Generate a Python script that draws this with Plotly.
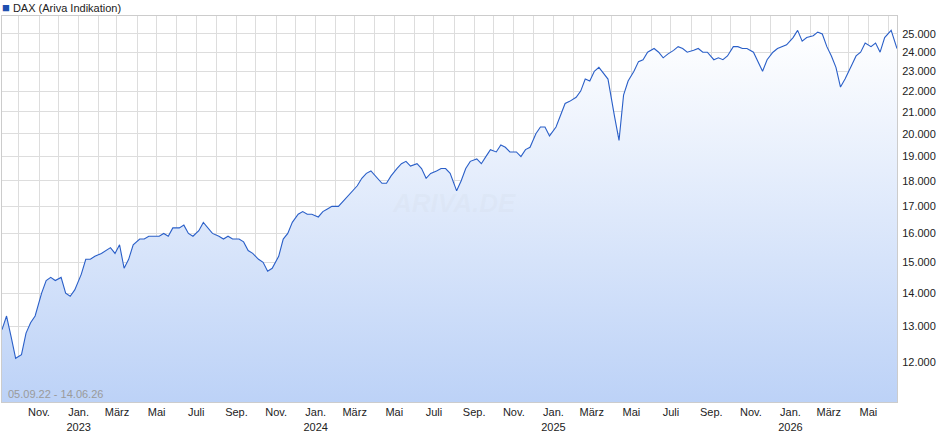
import pandas as pd
import plotly.graph_objects as go

# DAX values, 4 readings per month
months = pd.period_range("2022-09", "2026-06", freq="M")
monthly_values = [
    [12900, 13300, 12700, 12100],
    [12200, 12800, 13100, 13300],
    [14000, 14400, 14500, 14400],
    [14500, 14000, 13900, 14100],
    [14600, 15100, 15100, 15200],
    [15300, 15400, 15500, 15300],
    [15600, 14800, 15100, 15600],
    [15800, 15800, 15900, 15900],
    [15900, 16000, 15900, 16200],
    [16200, 16300, 16000, 15900],
    [16100, 16400, 16200, 16000],
    [15900, 15800, 15900, 15800],
    [15800, 15700, 15400, 15300],
    [15100, 15000, 14700, 14800],
    [15200, 15800, 16000, 16400],
    [16700, 16800, 16700, 16700],
    [16600, 16800, 16900, 17000],
    [17000, 17200, 17400, 17600],
    [17800, 18100, 18300, 18400],
    [18100, 17900, 17900, 18200],
    [18500, 18700, 18800, 18600],
    [18700, 18500, 18100, 18300],
    [18400, 18500, 18500, 18300],
    [17600, 18000, 18500, 18800],
    [18900, 18700, 19000, 19300],
    [19200, 19500, 19400, 19200],
    [19200, 19000, 19300, 19400],
    [20000, 20300, 20300, 19900],
    [20300, 20800, 21400, 21500],
    [21700, 22000, 22600, 22500],
    [23000, 23200, 22900, 22600],
    [20800, 19700, 21800, 22500],
    [23000, 23500, 23600, 24000],
    [24200, 24000, 23700, 23900],
    [24100, 24300, 24200, 24000],
    [24100, 24200, 24000, 24000],
    [23600, 23700, 23600, 23800],
    [24300, 24300, 24200, 24200],
    [24000, 23500, 23000, 23600],
    [24000, 24200, 24300, 24400],
    [24800, 25200, 24600, 24800],
    [24900, 25100, 25000, 24300],
    [23800, 23200, 22200, 22600],
    [23300, 23800, 24000, 24500],
    [24300, 24500, 24000, 24800],
    [25200, 24500, 24200, None],
]
day_offsets = [5, 12, 19, 26]

ytick_vals = [12000, 13000, 14000, 15000, 16000, 17000, 18000, 19000,
              20000, 21000, 22000, 23000, 24000, 25000]
month_names = {1: "Jan.", 3: "März", 5: "Mai", 7: "Juli", 9: "Sep.", 11: "Nov."}
baseline = 10000

dates, values = [], []
for m, vals in zip(months, monthly_values):
    for d, v in zip(day_offsets, vals):
        if v is None:
            continue
        dates.append(pd.Timestamp(m.year, m.month, d))
        values.append(v)
dates[-1] = pd.Timestamp("2026-06-14")

grid_dates = pd.date_range("2022-10-01", "2026-06-01", freq="MS")
label_dates = [g for g in grid_dates if g.month in month_names]
label_text = [month_names[g.month] + ("<br>%d" % g.year if g.month == 1 else "")
              for g in label_dates]

fig = go.Figure()
# invisible baseline so the area fill stays on the log axis
fig.add_trace(go.Scatter(
    x=dates, y=[baseline] * len(dates), mode="lines",
    line=dict(width=0), showlegend=False, hoverinfo="skip",
))
fig.add_trace(go.Scatter(
    x=dates, y=values, mode="lines",
    line=dict(color="#2a5fc8", width=1.1),
    fill="tonexty",
    fillgradient=dict(type="vertical",
                      colorscale=[[0, "#b5cdf6"], [1, "#ffffff"]]),
    showlegend=False, hoverinfo="x+y",
))

fig.update_layout(
    width=940, height=435,
    margin=dict(l=2, r=43, t=16, b=33),
    paper_bgcolor="white", plot_bgcolor="white",
    font=dict(family="Liberation Sans, Arial", size=11, color="#222"),
    xaxis=dict(
        range=[pd.Timestamp("2022-09-05"), pd.Timestamp("2026-06-14")],
        tickvals=label_dates, ticktext=label_text,
        showgrid=True, gridcolor="#dddddd",
        minor=dict(tickvals=grid_dates, showgrid=True, gridcolor="#dddddd"),
        showline=True, linecolor="#cccccc", mirror=True,
        ticks="", ticklabelstandoff=0, automargin=False,
        tickfont=dict(size=11),
    ),
    yaxis=dict(
        type="log", side="right",
        range=[4.0403, 4.4154],
        tickvals=ytick_vals,
        ticktext=[f"{v:,}".replace(",", ".") for v in ytick_vals],
        showgrid=True, gridcolor="#dddddd",
        showline=True, linecolor="#cccccc", mirror=True,
        ticks="", automargin=False, ticklabelstandoff=2,
        tickfont=dict(size=11), zeroline=False,
    ),
    annotations=[
        dict(text="<span style='color:#1f4fb0;font-size:13px'>■</span> DAX (Ariva Indikation)",
             xref="paper", yref="paper", x=0, y=1, xanchor="left", yanchor="bottom",
             yshift=-1, xshift=-2, showarrow=False, font=dict(size=11, color="#222")),
        dict(text="05.09.22 - 14.06.26", xref="paper", yref="paper",
             x=0.005, y=0.0, xanchor="left", yanchor="bottom", showarrow=False,
             font=dict(size=11, color="#9a9a9a")),
        dict(text="<b><i>ARIVA.DE</i></b>", xref="paper", yref="paper", x=0.505, y=0.515,
             showarrow=False, font=dict(size=26, color="rgba(200,205,215,0.12)")),
    ],
)

fig.write_html("out.html", config={"displayModeBar": False})

# drop the default page margin so the figure sits at the window's corner
with open("out.html", encoding="utf-8") as f:
    html = f.read()
html = html.replace("<body>", '<body style="margin:0">', 1)
with open("out.html", "w", encoding="utf-8") as f:
    f.write(html)
